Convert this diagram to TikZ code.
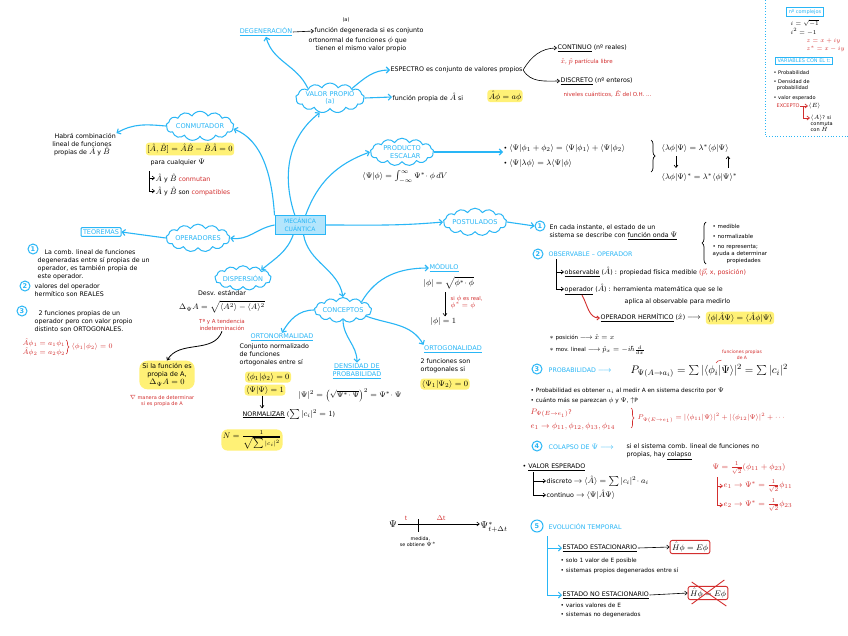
\documentclass[tikz,border=0pt]{standalone}
\usepackage{fontspec}
\setmainfont{DejaVu Sans}
\usetikzlibrary{shapes.symbols,shapes.geometric,arrows.meta,decorations.pathreplacing,calc}
\definecolor{qblue}{HTML}{29B6F6}
\definecolor{qred}{HTML}{D32F2F}
\definecolor{qyel}{HTML}{FFF176}
\definecolor{qlight}{HTML}{B3E5FC}
\newcommand{\myfs}[2]{\fontsize{#1}{#2}\selectfont}
\DeclareMathSizes{4.5}{5.6}{5}{5}
\DeclareMathSizes{4.8}{6}{5}{5}
\DeclareMathSizes{5}{6.2}{5}{5}
\DeclareMathSizes{5.3}{6.6}{5}{5}
\DeclareMathSizes{5.5}{6.8}{5}{5}
\DeclareMathSizes{5.8}{7.2}{5.2}{5}
\DeclareMathSizes{6}{7.4}{5.4}{5}
\DeclareMathSizes{6.3}{7.8}{5.6}{5}
\DeclareMathSizes{6.5}{8}{5.8}{5}
\DeclareMathSizes{6.8}{8.4}{6}{5}
\DeclareMathSizes{8}{9.8}{7}{5.5}
\DeclareMathSizes{9}{11}{7.8}{6}
\begin{document}
\begin{tikzpicture}[x=1pt,y=-1pt,
  txt/.style={inner sep=0.5pt, anchor=west, align=left, font=\myfs{6.3}{8}},
  ctxt/.style={inner sep=0.5pt, align=center, font=\myfs{6.3}{8}},
  rtxt/.style={txt, text=qred},
  btitle/.style={inner sep=0.5pt, align=center, text=qblue, font=\myfs{6.5}{8.5}},
  cl/.style={cloud, cloud puffs=13, cloud puff arc=120, aspect=3.2, draw=qblue, line width=1pt, text=qblue, align=center, inner xsep=-0.5pt, inner ysep=0.5pt, font=\myfs{6.6}{7.8}},
  hl/.style={fill=qyel, rounded corners=3pt, inner sep=1.5pt, align=center, font=\myfs{6.5}{8}},
  num/.style={circle, draw=qblue, line width=1pt, text=qblue, inner sep=0pt, minimum size=10pt, font=\myfs{6.5}{8}\bfseries},
  bl/.style={draw=qblue, line width=1.1pt, -{Straight Barb[length=3pt,width=6pt]}},
  blk/.style={draw=black, line width=0.6pt, -{Straight Barb[length=2.5pt,width=4pt]}},
  rdk/.style={draw=qred, line width=0.7pt, -{Straight Barb[length=2.5pt,width=4pt]}},
  tree/.style={draw=black, line width=0.6pt},
  bbox/.style={draw=qblue, line width=0.8pt, text=qblue, inner sep=2pt, font=\myfs{6.5}{8}},
  rbox/.style={draw=qred, line width=0.9pt, rounded corners=2pt, inner sep=2pt, font=\myfs{6.8}{8}}
]
\useasboundingbox (0,0) rectangle (848,635);
\fill[white] (0,0) rectangle (848,635);

% ---------- central ----------
\node[draw=qblue, fill=qlight, line width=1pt, text=qblue, align=center, font=\myfs{6}{7.5}, inner sep=2.5pt, minimum width=50pt] (mc) at (300,225) {MECÁNICA\\CUÁNTICA};

% ---------- clouds ----------
\node[cl] (conm) at (200,126) {CONMUTADOR};
\node[cl] (vp) at (330,98) {VALOR PROPIO\\(a)};
\node[cl] (pe) at (402,152) {PRODUCTO\\\quad ESCALAR};
\node[cl] (ops) at (198,238) {OPERADORES};
\node[cl] (disp) at (243,278) {DISPERSIÓN};
\node[cl] (conc) at (343,310) {CONCEPTOS};
\node[cl] (post) at (475,222) {POSTULADOS};

% ---------- conmutador ----------
\node[ctxt] (hab) at (82,145) {\quad Habrá combinación\\lineal de funciones\\propias de $\hat A$ y $\hat B$};
\node[hl] (ceq) at (190,149) {$[\hat A,\hat B]=\hat A\hat B-\hat B\hat A=0$};
\node[txt] (pcq) at (150,162) {para cualquier $\Psi$};
\coordinate (cb) at (149,171);
\node[txt] (cm1) at (155,178) {$\hat A$ y $\hat B$ {\color{qred}conmutan}};
\node[txt] (cm2) at (155,191) {$\hat A$ y $\hat B$ son {\color{qred}compatibles}};
\draw[blk] (cb) |- (cm1.west);
\draw[blk] (cb) |- (cm2.west);

% ---------- degeneracion ----------
\node[btitle] (dg) at (266,32) {\underline{DEGENERACIÓN}};
\node[txt] (dgt1) at (314,31) {función degenerada si es conjunto};
\node[txt] (dgt2) at (308,40) {ortonormal de funciones $\phi$ que};
\node[txt] (dgt3) at (315,49) {tienen el mismo valor propio};
\node[ctxt, font=\myfs{5}{6}] (dga) at (346,20) {(a)};
\draw[blk] (dg.east) -- (dgt1.west);

% ---------- valor propio ----------
\node[txt] (esp) at (390,70) {ESPECTRO es conjunto de valores propios};
\node[txt] (cont) at (557,48) {\underline{CONTINUO} (nº reales)};
\node[rtxt, font=\myfs{5.5}{7}] (contr) at (560,62) {$\hat x$, $\hat p$ partícula libre};
\node[txt] (disc) at (560,81) {\underline{DISCRETO} (nº enteros)};
\node[rtxt, font=\myfs{5.5}{7}] (discr) at (563,94) {niveles cuánticos, $\hat E$ del O.H. ...};
\draw[blk] (esp.east) to[out=60,in=180] (cont.west);
\draw[blk] (esp.east) to[out=-60,in=180] (disc.west);
\node[txt] (fp) at (392,97) {función propia de $\hat A$ si};
\node[hl] (fpe) at (505,96) {$\hat A\phi = a\phi$};

% ---------- right box ----------
\draw[qblue, line width=0.8pt, dotted] (765,0) -- (765,136) -- (848,136);
\node[bbox, font=\myfs{5}{6}] (nc) at (805,12) {nº complejos};
\node[txt, font=\myfs{5}{6}] (ci1) at (790,23) {$i=\sqrt{-1}$};
\node[txt, font=\myfs{5}{6}] (ci2) at (790,32) {$i^2=-1$};
\node[rtxt, font=\myfs{5}{6}] (cz1) at (806,41) {$z=x+iy$};
\node[rtxt, font=\myfs{5}{6}] (cz2) at (806,49) {$z^*=x-iy$};
\node[bbox, font=\myfs{5}{6}] (vt) at (804,61) {VARIABLES CON EL t:};
\node[txt, font=\myfs{5}{6}] (vt1) at (773,73) {• Probabilidad};
\node[txt, font=\myfs{5}{6}] (vt2) at (773,85) {• Densidad de\\\ \ probabilidad};
\node[txt, font=\myfs{5}{6}] (vt3) at (773,98) {• valor esperado};
\node[rtxt, font=\myfs{5}{6}] (exc) at (776,106) {EXCEPTO};
\node[txt, font=\myfs{5}{6}] (ve) at (808,106) {$\langle E\rangle$};
\node[txt, font=\myfs{5}{6}] (va) at (810,123) {$\langle A\rangle$? si\\conmuta\\con $\hat H$};
\draw[rdk] (exc.east) -- (ve.west);
\draw[rdk] ($(exc.east)+(3,0)$) |- ($(va.north west)+(0,4)$);

% ---------- producto escalar ----------
\node[ctxt] (pef) at (405,177) {$\langle\Psi|\phi\rangle=\int_{-\infty}^{\infty}\Psi^*\!\cdot\phi\,dV$};
\node[txt] (pb1) at (503,148) {• $\langle\Psi|\phi_1+\phi_2\rangle=\langle\Psi|\phi_1\rangle+\langle\Psi|\phi_2\rangle$};
\node[txt] (pb2) at (503,163) {• $\langle\Psi|\lambda\phi\rangle=\lambda\langle\Psi|\phi\rangle$};
\draw[decorate, decoration={brace, amplitude=4pt}, line width=0.7pt] (651,140) -- (651,172);
\node[txt] (pc1) at (661,148) {$\langle\lambda\phi|\Psi\rangle=\lambda^*\langle\phi|\Psi\rangle$};
\node[txt] (pc2) at (661,177) {$\langle\lambda\phi|\Psi\rangle^*=\lambda^*\langle\phi|\Psi\rangle^*$};
\coordinate (pa1) at (676,156); \coordinate (pa2) at (676,168);
\coordinate (pa3) at (728,168); \coordinate (pa4) at (728,156);
\draw[blk] (pa1) -- (pa2);
\draw[blk] (pa3) -- (pa4);

% ---------- operadores ----------
\node[bbox, line width=1pt, rounded corners=1pt] (teo) at (101,232) {TEOREMAS};
\node[num] (t1) at (33,249) {1};
\node[txt, anchor=north west] (t1t) at (37,249) {\hspace{7pt}La comb. lineal de funciones\\degeneradas entre sí propias de un\\operador, es también propia de\\este operador.};
\node[num] (t2) at (25,286) {2};
\node[txt, anchor=north west] (t2t) at (34,283) {valores del operador\\hermítico son REALES};
\node[num] (t3) at (22,311) {3};
\node[txt, anchor=north west] (t3t) at (34,310) {\hspace{4pt}2 funciones propias de un\\operador pero con valor propio\\distinto son ORTOGONALES.};
\node[rtxt, font=\myfs{5.3}{7}] (t3r) at (22,347) {$\hat A\phi_1=a_1\phi_1$\\$\hat A\phi_2=a_2\phi_2$};
\draw[qred, decorate, decoration={brace, amplitude=3pt}, line width=0.6pt] (66,340) -- (66,354);
\node[rtxt, font=\myfs{5.3}{7}] (t3r2) at (71,347) {$\langle\phi_1|\phi_2\rangle=0$};

% ---------- dispersion ----------
\node[ctxt] (dse) at (222,293) {Desv. estándar};
\node[ctxt] (dsf) at (222,307) {$\Delta_\Psi A=\sqrt{\langle A^2\rangle-\langle A\rangle^2}$};
\node[ctxt, text=qred, font=\myfs{5.5}{7}] (dtr) at (222,325) {Tª y A tendencia\\indeterminación};
\node[hl, rounded corners=8pt, inner sep=3pt] (si) at (167,375) {Si la función es\\propia de A,\\$\Delta_\Psi A=0$};
\node[ctxt, text=qred, font=\myfs{5}{6}] (sir) at (162,401) {$\nabla$ manera de determinar\\si es propia de A};
\draw[blk, line width=0.8pt] (dtr.south) to[out=-110,in=60] (si.north);

% ---------- conceptos ----------
\node[btitle] (orn) at (282,337) {\underline{ORTONORMALIDAD}};
\node[txt] (ornt) at (239,355) {Conjunto normalizado\\de funciones\\ortogonales entre sí};
\node[hl] (orn1) at (268,377) {$\langle\phi_1|\phi_2\rangle=0$};
\node[hl] (orn2) at (265,390) {$\langle\Psi|\Psi\rangle=1$};
\node[txt] (nrm) at (242,414) {\underline{NORMALIZAR} ($\sum|c_i|^2=1$)};
\draw[blk] (orn2.south) ++(-3,0) coordinate (na) -- ($(nrm.north west)+(20,0)$);
\node[hl, rounded corners=6pt] (nrf) at (252,440) {$N=\frac{1}{\sqrt{\sum|c_i|^2}}$};

\node[btitle] (dens) at (357,371) {\underline{DENSIDAD DE}\\\underline{PROBABILIDAD}};
\node[ctxt] (densf) at (350,395) {$|\Psi|^2=\left(\sqrt{\Psi^*\!\cdot\Psi}\right)^2=\Psi^*\!\cdot\Psi$};

\node[btitle] (ortg) at (453,349) {\underline{ORTOGONALIDAD}};
\node[txt] (ortgt) at (420,366) {2 funciones son\\ortogonales si};
\node[hl] (ortgf) at (445,384) {$\langle\Psi_1|\Psi_2\rangle=0$};

\node[btitle] (mod) at (444,268) {\underline{MÓDULO}};
\node[txt] (modf) at (423,283) {$|\phi|=\sqrt{\phi^*\!\cdot\phi}$};
\node[rtxt, font=\myfs{5.3}{7}] (modr) at (450,302) {si $\phi$ es real,\\$\phi^*=\phi$};
\node[txt] (mod1) at (430,321) {$|\phi|=1$};
\draw[blk] (445,292) -- (mod1.north -| 445,0);

% ---------- postulados ----------
\node[num] (c1) at (540,226) {1};
\node[txt] (c1t) at (549,232) {En cada instante, el estado de un\\sistema se describe con \underline{función onda $\Psi$}};
\draw[decorate, decoration={brace, amplitude=4pt}, line width=0.7pt] (706,264) -- (706,222);
\node[txt, font=\myfs{5.5}{7}] (m1) at (712,226) {• medible};
\node[txt, font=\myfs{5.5}{7}] (m2) at (712,236) {• normalizable};
\node[txt, font=\myfs{5.5}{7}] (m3) at (712,254) {• no representa;\\ayuda a determinar\\\hspace{14pt}propiedades};

\node[num] (c2) at (538,254) {2};
\node[txt, text=qblue] (c2t) at (548,254) {OBSERVABLE -- OPERADOR};
\node[txt] (obs) at (564,272) {\underline{observable} ($\hat A$) : propiedad física medible {\color{qred}($\vec p$, x, posición)}};
\node[txt] (opr) at (564,289) {\underline{operador} ($\hat A$) : herramienta matemática que se le};
\node[txt] (opr2) at (624,302) {aplica al observable para medirlo};
\coordinate (tr2) at (556,259);
\draw[blk] (tr2) |- (obs.west);
\draw[blk] (tr2) |- (opr.west);
\node[txt] (oph) at (600,318) {\underline{OPERADOR HERMÍTICO} ($\hat x$) $\longrightarrow$};
\node[hl] (ophf) at (740,318) {$\langle\phi|\hat A\Psi\rangle=\langle\hat A\phi|\Psi\rangle$};
\draw[rdk, line width=0.9pt] ($(opr.south west)+(18,0)$) to[out=-60,in=180] (oph.west);
\node[txt, font=\myfs{5.5}{7}] (xp) at (549,338) {$\ast$ posición $\longrightarrow$ $\hat x=x$};
\node[txt, font=\myfs{5.5}{7}] (pp) at (549,350) {$\ast$ mov. lineal $\longrightarrow$ $\hat p_x=-i\hbar\frac{d}{dx}$};

\node[num] (c3) at (537,369) {3};
\node[txt, text=qblue] (c3t) at (548,370) {PROBABILIDAD $\longrightarrow$};
\node[txt, font=\myfs{9}{10}] (c3f) at (630,371) {$P_{\Psi(A\to a_i)}=\sum|\langle\phi_i|\Psi\rangle|^2=\sum|c_i|^2$};
\node[ctxt, text=qred, font=\myfs{4.5}{5.5}] (c3r) at (742,355) {funciones propias\\de A};
\draw[qred, line width=0.5pt] (c3r.south west) to[out=200,in=90] (716,363);
\node[txt, font=\myfs{5.8}{7}] (p1) at (530,391) {• Probabilidad es obtener $a_i$ al medir A en sistema descrito por $\Psi$};
\node[txt, font=\myfs{5.8}{7}] (p2) at (530,401) {• cuánto más se parezcan $\phi$ y $\Psi$, $\uparrow$P};
\node[rtxt] (p3) at (530,413) {$P_{\Psi(E\to e_1)}$?};
\node[rtxt] (p4) at (530,426) {$e_1\to\phi_{11},\phi_{12},\phi_{13},\phi_{14}$};
\draw[qred, decorate, decoration={brace, amplitude=3pt}, line width=0.6pt] (631,408) -- (631,428);
\node[rtxt, font=\myfs{5.3}{7}] (p5) at (637,418) {$P_{\Psi(E\to e_1)}=|\langle\phi_{11}|\Psi\rangle|^2+|\langle\phi_{12}|\Psi\rangle|^2+\cdots$};

\node[num] (c4) at (537,446) {4};
\node[txt, text=qblue] (c4t) at (548,447) {COLAPSO DE $\Psi$ $\longrightarrow$};
\node[txt] (c4x) at (626,452) {si el sistema comb. lineal de funciones no\\propias, hay \underline{colapso}};
\node[txt] (ve0) at (522,467) {• \underline{VALOR ESPERADO}};
\coordinate (tr4) at (533,472);
\node[txt] (ve1) at (546,481) {discreto $\to$ $\langle\hat A\rangle=\sum|c_i|^2\!\cdot a_i$};
\node[txt] (ve2) at (546,495) {continuo $\to$ $\langle\Psi|\hat A\Psi\rangle$};
\draw[blk] (tr4) |- (ve1.west);
\draw[blk] (tr4) |- (ve2.west);
\node[rtxt] (er0) at (712,468) {$\Psi=\frac{1}{\sqrt2}(\phi_{11}+\phi_{23})$};
\coordinate (tr5) at (717,477);
\node[rtxt] (er1) at (723,486) {$e_1\to\Psi^*=\frac{1}{\sqrt2}\phi_{11}$};
\node[rtxt] (er2) at (723,505) {$e_2\to\Psi^*=\frac{1}{\sqrt2}\phi_{23}$};
\draw[rdk] (tr5) |- (er1.west);
\draw[rdk] (tr5) |- (er2.west);

% ---------- timeline ----------
\node[ctxt, font=\myfs{8}{9}] (ps0) at (393,524) {$\Psi$};
\node[ctxt, font=\myfs{8}{9}] (ps1) at (494,527) {$\Psi^*_{t+\Delta t}$};
\draw[blk] (ps0.east) -- (ps1.west |- ps0.east);
\coordinate (tk1) at (418,519); \coordinate (tk2) at (418,532);
\draw[tree] (tk1) -- (tk2);
\node[ctxt, text=qred, font=\myfs{6}{7}] (tt) at (406,518) {t};
\node[ctxt, text=qred, font=\myfs{6}{7}] (tdt) at (441,518) {$\Delta$t};
\node[ctxt, font=\myfs{4.8}{6}] (med) at (418,542) {\quad medida,\\se obtiene $\Psi^*$};

% ---------- evolucion ----------
\node[num, minimum size=12pt] (c5) at (537,526) {5};
\node[txt, text=qblue] (c5t) at (548,527) {EVOLUCIÓN TEMPORAL};
\coordinate (tr6) at (547,536);
\node[txt] (ee) at (562,548) {\underline{ESTADO ESTACIONARIO}};
\node[txt] (ne) at (562,595) {\underline{ESTADO NO ESTACIONARIO}};
\draw[bl, line width=0.9pt] (tr6) |- (ee.west);
\draw[bl, line width=0.9pt] (tr6) |- (ne.west);
\node[rbox] (eb) at (690,547) {$\hat H\phi=E\phi$};
\node[rbox] (nb) at (708,593) {$\hat H\phi=E\phi$};
\draw[blk] (ee.east) -- (eb.west);
\draw[blk] (ne.east) -- (nb.west);
\draw[qred, line width=0.9pt] ($(nb.south west)+(4,4)$) -- ($(nb.north east)+(-4,-6)$);
\draw[qred, line width=0.9pt] ($(nb.north west)+(4,-4)$) -- ($(nb.south east)+(-2,6)$);
\node[txt, font=\myfs{5.8}{7}] (ee1) at (560,561) {• solo 1 valor de E posible};
\node[txt, font=\myfs{5.8}{7}] (ee2) at (560,571) {• sistemas propios degenerados entre sí};
\node[txt, font=\myfs{5.8}{7}] (ne1) at (560,605) {• varios valores de E};
\node[txt, font=\myfs{5.8}{7}] (ne2) at (560,615) {• sistemas no degenerados};

% ---------- blue connectors ----------
\draw[bl] (mc.118) .. controls (283,180) and (285,140) .. (vp.-125);
\draw[bl] (mc.north west) .. controls (272,175) and (262,140) .. (conm.-5);
\draw[bl] (mc.60) to[out=70,in=-160] (pe.west);
\draw[bl] (mc.west) to[out=190,in=-10] (ops.east);
\draw[bl] (mc.-125) to[out=-110,in=40] (disp.north east);
\draw[bl] (mc.-70) to[out=-80,in=100] (conc.north);
\draw[bl] (mc.east) to[out=0,in=185] (post.west);
\draw[bl] (vp.north west) to[out=115,in=-75] (dg.south);
\draw[bl] (vp.north east) to[out=40,in=180] (esp.west);
\draw[bl] (vp.east) -- (fp.west);
\draw[bl] (pe.east) -- (pb1.west |- pe.east);
\draw[bl] (ops.west) -- (teo.east);
\draw[bl] (post.east) -- (c1.west);
\draw[bl] (conm.west) to[out=175,in=30] (hab.north east);
\draw[bl] (conc.west) to[out=180,in=60] (orn.north);
\draw[bl] (conc.south) to[out=-90,in=90] (dens.north);
\draw[bl] (conc.-15) to[out=-20,in=120] (ortg.north west);
\draw[bl] (conc.north east) to[out=60,in=180] (mod.west);
\end{tikzpicture}
\end{document}
